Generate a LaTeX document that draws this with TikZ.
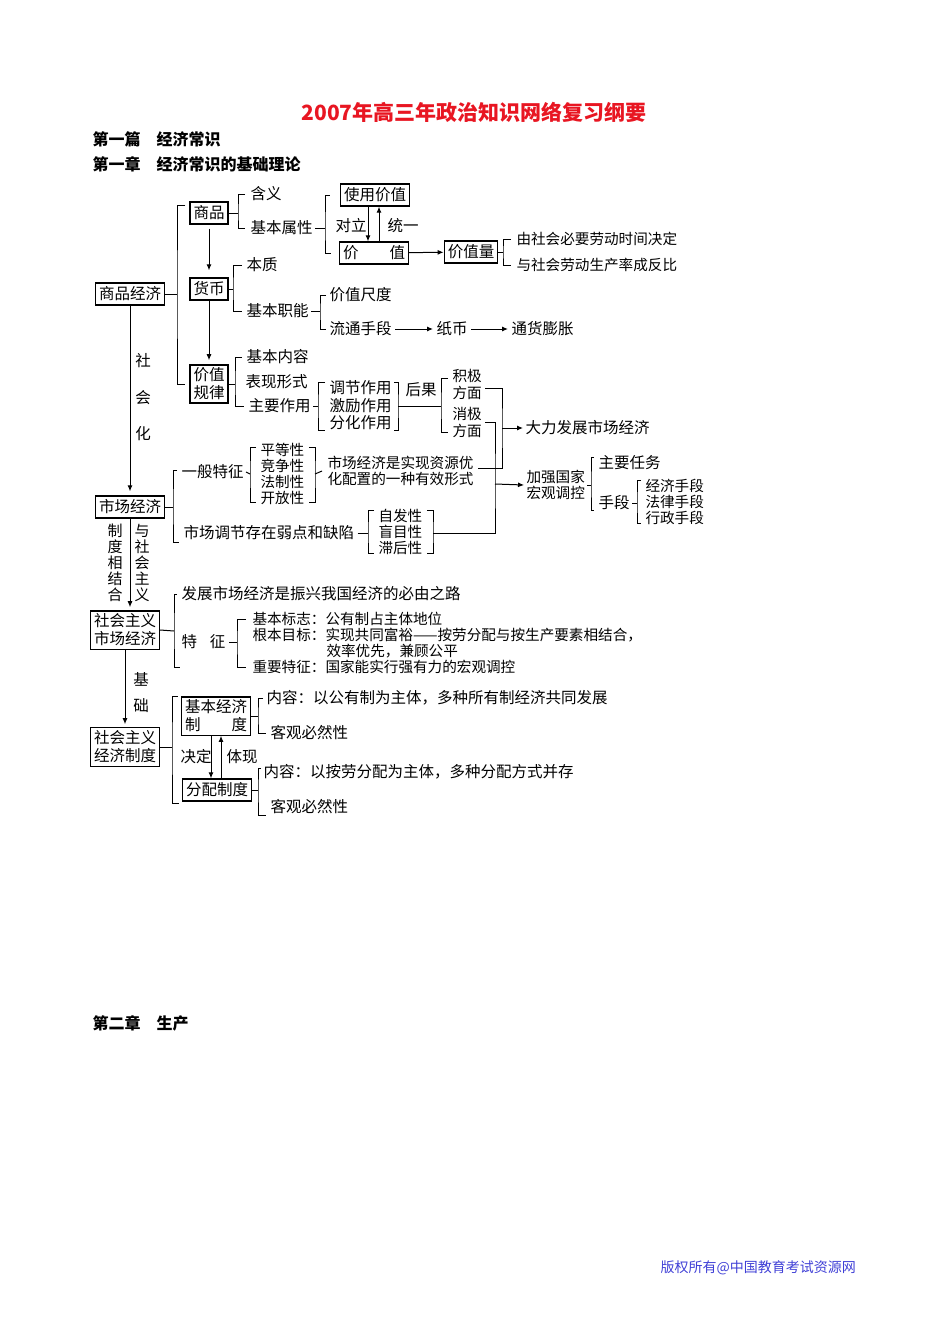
\documentclass[tikz,border=0pt]{standalone}
\usepackage{fontspec}
\setmainfont{Noto Sans CJK SC}
\usepackage{tikz}
\usetikzlibrary{arrows.meta,calc}
\definecolor{titlered}{RGB}{232,22,34}
\definecolor{footblue}{RGB}{64,64,214}

\begin{document}
\begin{tikzpicture}[x=1pt,y=-1pt,line width=1pt,>={Latex[length=6pt,width=5pt]},
  every node/.style={inner sep=0pt,font=\fontsize{15.5}{16}\selectfont},
  box/.style={draw,line width=1.3pt,inner xsep=3.5pt,inner ysep=3pt,minimum height=22pt,align=center,font=\fontsize{15.5}{18}\selectfont},
  txt/.style={anchor=west,align=left},
  sm/.style={font=\fontsize{14.6}{16}\selectfont},
  head/.style={anchor=west,font=\fontsize{16}{18}\selectfont\bfseries}]
  \useasboundingbox (0,0) rectangle (950,1344);

  % title and headings
  \node[font=\fontsize{21}{24}\selectfont\bfseries,text=titlered] (title) at (474,112) {2007年高三年政治知识网络复习纲要};
  \node[head] (pian1) at (92,139) {第一篇　经济常识};
  \node[head] (zhang1) at (92,164) {第一章　经济常识的基础理论};
  \node[head] (zhang2) at (92,1023) {第二章　生产};
  \node[txt,font=\fontsize{14}{16}\selectfont,text=footblue] (foot) at (660,1268) {版权所有@中国教育考试资源网};

  % boxes
  \node[box] (spjj) at (130,294) {商品经济};
  \node[box] (sp) at (209,213) {商品};
  \node[box] (hb) at (209,289) {货币};
  \node[box] (jzgl) at (209,384) {价值\\规律};
  \node[box] (syjz) at (375,195) {使用价值};
  \node[box] (jz) at (374,253) {价　　值};
  \node[box] (jzl) at (471,252) {价值量};
  \node[box] (scjj) at (130,507) {市场经济};
  \node[box] (shscjj) at (125,630) {社会主义\\市场经济};
  \node[box] (shjjzd) at (125,747) {社会主义\\经济制度};
  \node[box] (jbjjzd) at (216,716) {基本经济\\制　　度};
  \node[box] (fpzd) at (217,790) {分配制度};

  % texts
  \node[txt] (hy) at (250,194) {含义};
  \node[txt] (jbsx) at (250,228) {基本属性};
  \node[txt] (bz) at (246,265) {本质};
  \node[txt] (jbzn) at (246,311) {基本职能};
  \node[txt] (jzcd) at (329,295) {价值尺度};
  \node[txt] (ltsd) at (329,329) {流通手段};
  \node[txt] (zb) at (436,329) {纸币};
  \node[txt] (thpz) at (511,329) {通货膨胀};
  \node[txt] (dl) at (335,226) {对立};
  \node[txt] (ty) at (387,226) {统一};
  \node[txt,sm] (jd1) at (516,239) {由社会必要劳动时间决定};
  \node[txt,sm] (jd2) at (516,265) {与社会劳动生产率成反比};
  \node[txt] (jbnr) at (246,357) {基本内容};
  \node[txt] (bxxs) at (245,382) {表现形式};
  \node[txt] (zyzy) at (248,406) {主要作用};
  \foreach \w/\y [count=\i] in {调节作用/388,激励作用/406,分化作用/423}
    \node[txt] (zy\i) at (329,\y) {\w};
  \node[txt] (hg) at (405,390) {后果};
  \node[txt,sm,font=\fontsize{14.6}{17}\selectfont] (jj) at (452,384.5) {积极\\方面};
  \node[txt,sm,font=\fontsize{14.6}{17}\selectfont] (xj) at (452,422) {消极\\方面};
  \node[txt] (dlfz) at (525,428) {大力发展市场经济};
  \node[txt,sm] (jqhg) at (526,485) {加强国家\\宏观调控};
  \node[txt] (zyrw) at (598,463) {主要任务};
  \node[txt] (sd) at (598,503) {手段};
  \foreach \w/\y [count=\i] in {经济手段/486,法律手段/502,行政手段/518}
    \node[txt,sm] (ss\i) at (645,\y) {\w};
  \node[txt] (ybtz) at (181,472) {一般特征};
  \foreach \w/\y [count=\i] in {平等性/450,竞争性/466,法制性/482,开放性/498}
    \node[txt,sm] (pd\i) at (260,\y) {\w};
  \node[txt,sm] (sjxs) at (327,471) {市场经济是实现资源优\\化配置的一种有效形式};
  \node[txt] (scjt) at (183,533) {市场调节存在弱点和缺陷};
  \foreach \w/\y [count=\i] in {自发性/516,盲目性/532,滞后性/548}
    \node[txt,sm] (zf\i) at (378,\y) {\w};
  \node[txt] (fz) at (181,594) {发展市场经济是振兴我国经济的必由之路};
  \node[txt] (tz) at (181,642) {特\hspace{13pt}征};
  \node[txt,sm] (jbbz) at (252,619) {基本标志：公有制占主体地位};
  \node[txt,sm] (gbmb) at (252,635) {根本目标：实现共同富裕——按劳分配与按生产要素相结合，};
  \node[txt,sm] (xlyx) at (326,651) {效率优先，兼顾公平};
  \node[txt,sm] (zytz) at (252,667) {重要特征：国家能实行强有力的宏观调控};
  \node[txt] (nr1) at (266,698) {内容：以公有制为主体，多种所有制经济共同发展};
  \node[txt] (kg1) at (270,733) {客观必然性};
  \node[txt] (jd) at (180,757) {决定};
  \node[txt] (tx) at (226,757) {体现};
  \node[txt] (nr2) at (263,772) {内容：以按劳分配为主体，多种分配方式并存};
  \node[txt] (kg2) at (270,807) {客观必然性};

  % vertical labels
  \foreach \w/\y [count=\i] in {社/361,会/398,化/434}
    \node (shh\i) at (143,\y) {\w};
  \node[align=center,font=\fontsize{15}{16}\selectfont] (zdxjh) at (115,563) {制\\度\\相\\结\\合};
  \node[align=center,font=\fontsize{15}{16}\selectfont] (yshzy) at (142,563) {与\\社\\会\\主\\义};
  \node (jc1) at (141,679) {基};
  \node (jc2) at (141,706) {础};

  % arrows
  \draw[->,shorten >=4pt] (spjj) -- (scjj);
  \draw[->,shorten <=4pt,shorten >=7pt] (sp) -- (hb);
  \draw[->,shorten >=4pt] (hb) -- (jzgl);
  \draw[->,shorten >=3pt] (scjj.south) -- (scjj.south |- shscjj.north);
  \draw[->,shorten >=3pt] (shscjj) -- (shjjzd);
  \coordinate (dlx) at ($(syjz.south)+(-7,0)$);
  \coordinate (tyx) at ($(syjz.south)+(4,0)$);
  \draw[->] (dlx) -- (dlx |- jz.north);
  \draw[->] (tyx |- jz.north) -- (tyx);
  \coordinate (jdx) at ($(jbjjzd.south)+(-5,0)$);
  \coordinate (txx) at ($(jbjjzd.south)+(5,0)$);
  \draw[->] (jdx) -- (jdx |- fpzd.north);
  \draw[->] (txx |- fpzd.north) -- (txx);
  \draw[->] (jz) -- (jzl);
  \draw[->,shorten <=3pt,shorten >=3pt] (ltsd) -- (zb);
  \draw[->,shorten <=3pt,shorten >=3pt] (zb) -- (thpz);

  % brackets
  \coordinate (k0) at (177,294);
  \draw (spjj.east) -- (k0);
  \draw ([xshift=-4pt,yshift=8pt]sp.west) -| (k0) |- ([xshift=-4pt]jzgl.west);
  \coordinate (k1) at (238,213);
  \draw (sp.east) -- (k1);
  \draw ([xshift=-5pt]hy.west) -| (k1) |- ([xshift=-5pt]jbsx.west);
  \coordinate (k2) at (325,228);
  \draw ([xshift=2pt]jbsx.east) -- (k2);
  \draw ([xshift=-10pt]syjz.west) -| (k2) |- ([xshift=-8pt]jz.west);
  \coordinate (k3) at (503,252);
  \draw (jzl.east) -- (k3);
  \draw ([xshift=-5pt]jd1.west) -| (k3) |- ([xshift=-5pt]jd2.west);
  \coordinate (k4) at (233,289);
  \draw (hb.east) -- (k4);
  \draw ([xshift=-4pt]bz.west) -| (k4) |- ([xshift=-4pt]jbzn.west);
  \coordinate (k5) at (320,311);
  \draw ([xshift=2pt]jbzn.east) -- (k5);
  \draw ([xshift=-3pt]jzcd.west) -| (k5) |- ([xshift=-3pt]ltsd.west);
  \coordinate (k6) at (235,384);
  \draw (jzgl.east) -- (k6);
  \draw ([xshift=-4pt]jbnr.west) -| (k6) |- ([xshift=-4pt]zyzy.west);
  \coordinate (k7) at (318,406);
  \coordinate (k7r) at (398,406);
  \draw ([xshift=2pt]zyzy.east) -- (k7);
  \draw ([xshift=-4pt,yshift=6pt]zy1.west) -| (k7) |- ([xshift=-4pt,yshift=-7pt]zy3.west);
  \draw ([xshift=2pt,yshift=6pt]zy1.east) -| (k7r) |- ([xshift=2pt,yshift=-7pt]zy3.east);
  \coordinate (k8) at (441,406);
  \draw (k7r) -- (k8);
  \draw ([xshift=-4pt,yshift=6pt]jj.west) -| (k8) |- ([xshift=-4pt,yshift=-10pt]xj.west);
  \coordinate (v1) at (502,428);
  \draw ([xshift=3pt,yshift=-4pt]jj.east) -| (v1) |- ([xshift=4pt,yshift=3pt]sjxs.east);
  \draw[->] (v1) -- ([xshift=-2pt]dlfz.west);
  \coordinate (v2) at (495,484);
  \coordinate (k9r) at (433,533);
  \draw ([xshift=3pt]xj.east) -| (v2) |- (k9r);
  \draw[->] (v2) -- ([xshift=-2pt]jqhg.west);
  \coordinate (k10) at (173,507);
  \draw (scjj.east) -- (k10);
  \draw ([xshift=-4pt,yshift=2pt]ybtz.west) -| (k10) |- ([xshift=-4pt,yshift=-9pt]scjt.west);
  \coordinate (k11) at (250,474);
  \coordinate (k11r) at (315,474);
  \draw ([xshift=2pt]ybtz.east) -- (k11);
  \draw ([xshift=-4pt,yshift=3pt]pd1.west) -| (k11) |- ([xshift=-4pt,yshift=-4pt]pd4.west);
  \draw ([xshift=4pt,yshift=3pt]pd1.east) -| (k11r) |- ([xshift=4pt,yshift=-4pt]pd4.east);
  \draw (k11r) -- ([xshift=-5pt]sjxs.west);
  \coordinate (k12) at (368,533);
  \draw ([xshift=3pt]scjt.east) -- (k12);
  \draw ([xshift=-4pt,yshift=6pt]zf1.west) -| (k12) |- ([xshift=-4pt,yshift=-5pt]zf3.west);
  \draw ([xshift=4pt,yshift=6pt]zf1.east) -| (k9r) |- ([xshift=4pt,yshift=-5pt]zf3.east);
  \coordinate (k13) at (591,485);
  \draw ([xshift=2pt]jqhg.east) -- (k13);
  \draw ([xshift=-4pt,yshift=6pt]zyrw.west) -| (k13) |- ([xshift=-4pt,yshift=-7pt]sd.west);
  \coordinate (k14) at (637,503);
  \draw ([xshift=2pt]sd.east) -- (k14);
  \draw ([xshift=-4pt,yshift=6pt]ss1.west) -| (k14) |- ([xshift=-4pt,yshift=-5pt]ss3.west);
  \coordinate (k15) at (174,631);
  \coordinate (k15e) at (180,667);
  \draw (shscjj.east) -- (k15);
  \draw ([xshift=-4pt]fz.west) -| (k15) |- (k15e);
  \coordinate (k16) at (237,642);
  \draw ([xshift=3pt]tz.east) -- (k16);
  \draw ([xshift=-6pt]jbbz.west) -| (k16) |- ([xshift=-6pt]zytz.west);
  \coordinate (k17) at (172,747);
  \draw (shjjzd.east) -- (k17);
  \draw ([xshift=-3pt,yshift=20pt]jbjjzd.west) -| (k17) |- ([xshift=-3pt,yshift=-13pt]fpzd.west);
  \coordinate (k18) at (258,716);
  \draw (jbjjzd.east) -- (k18);
  \draw ([xshift=-3pt]nr1.west) -| (k18) |- ([xshift=-4pt]kg1.west);
  \coordinate (k19) at (258,790);
  \draw (fpzd.east) -- (k19);
  \draw ([xshift=-2pt,yshift=4pt]nr2.west) -| (k19) |- ([xshift=-4pt,yshift=-8pt]kg2.west);
\end{tikzpicture}
\end{document}
